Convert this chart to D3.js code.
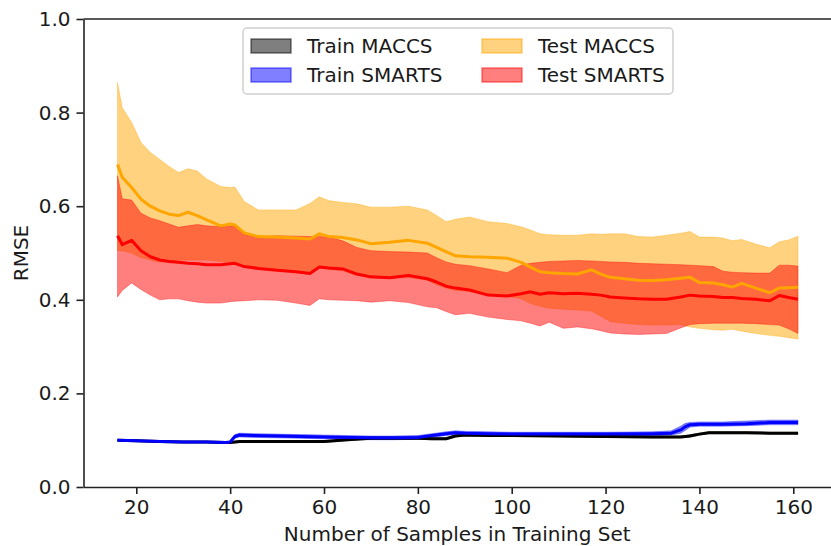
<!DOCTYPE html>
<html>
<head>
<meta charset="utf-8">
<script src="https://cdn.jsdelivr.net/npm/d3@7"></script>
<style>
  body { margin: 0; background: #fff; }
  svg text { font-family: "DejaVu Sans", sans-serif; fill: #1a1a1a; }
</style>
</head>
<body>
<svg id="chart" width="831" height="546"></svg>
<script>
// data

// test curves share one set of sample positions
var testX = [16,17,19,21,23,25,27,29,31,33,35,38,40,41,43,46,50,54,57,59,61,64,67,70,74,78,82,84,86,88,91,95,99,102,104,106,108,111,114,117,119,121,124,127,130,133,136,138,140,143,145,147,149,152,155,157,159,161];

var testMaccsMean = [0.689,0.662,0.640,0.615,0.600,0.590,0.583,0.580,0.587,0.580,0.571,0.558,0.562,0.560,0.543,0.535,0.534,0.532,0.530,0.541,0.535,0.533,0.528,0.520,0.523,0.527,0.521,0.512,0.503,0.494,0.492,0.491,0.489,0.480,0.470,0.460,0.458,0.456,0.455,0.464,0.455,0.448,0.445,0.442,0.441,0.443,0.446,0.448,0.437,0.436,0.432,0.427,0.435,0.425,0.415,0.425,0.426,0.427];
var testMaccsHigh = [0.864,0.811,0.779,0.736,0.715,0.700,0.685,0.672,0.680,0.675,0.658,0.642,0.640,0.641,0.610,0.592,0.592,0.592,0.606,0.620,0.612,0.608,0.605,0.598,0.598,0.600,0.592,0.580,0.567,0.572,0.577,0.567,0.563,0.556,0.549,0.541,0.539,0.538,0.538,0.541,0.540,0.541,0.541,0.535,0.534,0.538,0.542,0.546,0.534,0.534,0.532,0.526,0.529,0.519,0.511,0.524,0.528,0.536];
var testMaccsLow = [0.505,0.505,0.500,0.490,0.485,0.480,0.482,0.485,0.485,0.485,0.485,0.482,0.480,0.480,0.472,0.470,0.465,0.462,0.458,0.468,0.465,0.462,0.452,0.446,0.446,0.448,0.442,0.432,0.425,0.420,0.418,0.412,0.408,0.402,0.392,0.386,0.382,0.380,0.378,0.376,0.365,0.353,0.350,0.347,0.346,0.346,0.347,0.342,0.339,0.336,0.335,0.337,0.333,0.328,0.324,0.322,0.319,0.316];

var testSmartsMean = [0.537,0.518,0.527,0.505,0.492,0.485,0.482,0.480,0.478,0.477,0.475,0.475,0.477,0.478,0.471,0.467,0.463,0.460,0.456,0.470,0.468,0.466,0.455,0.449,0.447,0.452,0.445,0.438,0.429,0.425,0.421,0.410,0.408,0.413,0.417,0.412,0.415,0.413,0.414,0.412,0.410,0.406,0.404,0.402,0.401,0.401,0.406,0.410,0.408,0.407,0.405,0.405,0.403,0.401,0.398,0.409,0.405,0.401];
var testSmartsHigh = [0.665,0.616,0.613,0.585,0.575,0.569,0.562,0.555,0.558,0.561,0.558,0.556,0.557,0.558,0.540,0.534,0.537,0.536,0.535,0.535,0.534,0.526,0.512,0.505,0.503,0.502,0.500,0.490,0.481,0.476,0.473,0.466,0.458,0.474,0.478,0.480,0.482,0.483,0.484,0.483,0.482,0.481,0.480,0.478,0.477,0.476,0.475,0.474,0.473,0.471,0.461,0.459,0.458,0.457,0.457,0.474,0.474,0.472];
var testSmartsLow = [0.406,0.420,0.436,0.422,0.410,0.400,0.402,0.402,0.398,0.395,0.393,0.393,0.396,0.397,0.398,0.400,0.399,0.393,0.388,0.402,0.400,0.399,0.398,0.395,0.398,0.394,0.385,0.383,0.375,0.368,0.371,0.363,0.358,0.355,0.350,0.344,0.352,0.339,0.342,0.338,0.334,0.329,0.327,0.326,0.327,0.328,0.340,0.347,0.349,0.350,0.350,0.350,0.350,0.349,0.347,0.346,0.338,0.328];

// train curves are step-like, sampled on their own positions
var trainX = [16,20,25,30,35,39,40,41,42,45,50,55,60,65,70,75,80,83,86,88,90,95,100,110,120,130,134,136,137,138,140,142,145,150,155,161];

var trainMaccsMean = [0.100,0.099,0.097,0.096,0.096,0.095,0.095,0.096,0.097,0.097,0.097,0.097,0.097,0.101,0.104,0.104,0.104,0.103,0.103,0.109,0.111,0.110,0.110,0.109,0.108,0.107,0.107,0.107,0.108,0.109,0.113,0.116,0.116,0.116,0.115,0.115];
var trainMaccsHigh = [0.101,0.100,0.098,0.097,0.097,0.096,0.096,0.098,0.099,0.099,0.099,0.099,0.099,0.103,0.106,0.106,0.106,0.105,0.105,0.111,0.113,0.112,0.112,0.111,0.110,0.109,0.109,0.109,0.110,0.112,0.115,0.118,0.118,0.118,0.117,0.117];
var trainMaccsLow = [0.099,0.098,0.096,0.095,0.095,0.094,0.094,0.094,0.095,0.095,0.095,0.095,0.095,0.099,0.102,0.102,0.102,0.101,0.101,0.107,0.109,0.108,0.108,0.107,0.106,0.105,0.105,0.105,0.106,0.107,0.111,0.114,0.114,0.114,0.113,0.113];

var trainSmartsMean = [0.100,0.099,0.097,0.096,0.096,0.095,0.096,0.108,0.111,0.110,0.109,0.108,0.107,0.106,0.105,0.105,0.106,0.110,0.114,0.116,0.115,0.114,0.113,0.113,0.113,0.114,0.115,0.122,0.129,0.133,0.134,0.134,0.134,0.135,0.138,0.138];
var trainSmartsHigh = [0.101,0.100,0.098,0.097,0.097,0.096,0.098,0.112,0.115,0.114,0.113,0.112,0.111,0.110,0.109,0.109,0.110,0.114,0.118,0.120,0.119,0.118,0.117,0.117,0.117,0.118,0.120,0.130,0.136,0.138,0.139,0.139,0.139,0.141,0.143,0.143];
var trainSmartsLow = [0.099,0.098,0.096,0.095,0.095,0.094,0.094,0.104,0.107,0.106,0.105,0.104,0.103,0.102,0.101,0.101,0.102,0.106,0.110,0.112,0.111,0.110,0.109,0.109,0.109,0.110,0.111,0.115,0.121,0.128,0.130,0.130,0.130,0.131,0.133,0.133];

var xTicks = [20,40,60,80,100,120,140,160];
var yTicks = [0.0,0.2,0.4,0.6,0.8,1.0];

var legendNames = ["Train MACCS","Train SMARTS","Test MACCS","Test SMARTS"];
var seriesColors = ["#000000","#0000ff","#ffa500","#ff0000"];

// layout
var svg = d3.select("#chart");
var plotLeft = 83.5, plotRight = 832, plotTop = 19, plotBottom = 487;
var fontSize = 20;

var x = d3.scaleLinear().domain([8.75, 168.25]).range([plotLeft, plotRight]);
var y = d3.scaleLinear().domain([0, 1]).range([plotBottom, plotTop]);

function zip(xs, mean, low, high) {
    return xs.map(function(v, i) {
        return {x: v, m: mean[i], lo: low[i], hi: high[i]};
    });
}

var series = [
    zip(trainX, trainMaccsMean, trainMaccsLow, trainMaccsHigh),
    zip(trainX, trainSmartsMean, trainSmartsLow, trainSmartsHigh),
    zip(testX, testMaccsMean, testMaccsLow, testMaccsHigh),
    zip(testX, testSmartsMean, testSmartsLow, testSmartsHigh)
];

var area = d3.area()
    .x(d => x(d.x))
    .y0(d => y(d.lo))
    .y1(d => y(d.hi));

var line = d3.line()
    .x(d => x(d.x))
    .y(d => y(d.m));

var plot = svg.append("g");

// bands first
series.forEach(function(s, i) {
    plot.append("path")
        .datum(s)
        .attr("d", area)
        .attr("fill", seriesColors[i])
        .attr("fill-opacity", 0.5)
        .attr("stroke", seriesColors[i])
        .attr("stroke-opacity", 0.35)
        .attr("stroke-width", 1);
});

// mean lines on top
series.forEach(function(s, i) {
    plot.append("path")
        .datum(s)
        .attr("d", line)
        .attr("fill", "none")
        .attr("stroke", seriesColors[i])
        .attr("stroke-width", 3)
        .attr("stroke-linejoin", "round");
});

// axes
var xAxis = d3.axisBottom(x)
    .tickValues(xTicks)
    .tickSize(7)
    .tickSizeOuter(0)
    .tickPadding(6)
    .tickFormat(d3.format("d"));

var yAxis = d3.axisLeft(y)
    .tickValues(yTicks)
    .tickSize(7)
    .tickSizeOuter(0)
    .tickPadding(6)
    .tickFormat(d3.format(".1f"));

var gx = svg.append("g").attr("transform", `translate(0, ${plotBottom})`).call(xAxis);
var gy = svg.append("g").attr("transform", `translate(${plotLeft}, 0)`).call(yAxis);

[gx, gy].forEach(function(g) {
    g.selectAll("path, line").attr("stroke", "#222").attr("stroke-width", 1.6);
    g.selectAll("text").attr("font-size", fontSize).attr("fill", "#1a1a1a");
});

// top and right spines
svg.append("line").attr("x1", plotLeft).attr("x2", plotRight).attr("y1", plotTop).attr("y2", plotTop)
    .attr("stroke", "#222").attr("stroke-width", 1.6);
svg.append("line").attr("x1", plotRight).attr("x2", plotRight).attr("y1", plotTop).attr("y2", plotBottom)
    .attr("stroke", "#222").attr("stroke-width", 1.6);

// axis titles
svg.append("text")
    .attr("x", (plotLeft + 831) / 2)
    .attr("y", 541)
    .attr("text-anchor", "middle")
    .attr("font-size", fontSize)
    .text("Number of Samples in Training Set");

svg.append("text")
    .attr("transform", `translate(28, ${(plotTop + plotBottom) / 2}) rotate(-90)`)
    .attr("text-anchor", "middle")
    .attr("font-size", fontSize)
    .text("RMSE");

// legend, two columns
var legend = svg.append("g").attr("transform", "translate(243, 28)");

legend.append("rect")
    .attr("width", 430)
    .attr("height", 66)
    .attr("rx", 4)
    .attr("fill", "#fff")
    .attr("fill-opacity", 0.8)
    .attr("stroke", "#d0d0d0")
    .attr("stroke-width", 1.5);

legendNames.forEach(function(name, i) {
    var col = Math.floor(i / 2), row = i % 2;
    var item = legend.append("g")
        .attr("transform", `translate(${8 + col * 231}, ${11 + row * 29})`);
    item.append("rect")
        .attr("width", 40)
        .attr("height", 14)
        .attr("fill", seriesColors[i])
        .attr("fill-opacity", 0.5)
        .attr("stroke", seriesColors[i])
        .attr("stroke-opacity", 0.5)
        .attr("stroke-width", 1.5);
    item.append("text")
        .attr("x", 56)
        .attr("y", 14)
        .attr("font-size", fontSize)
        .text(name);
});
</script>
</body>
</html>
